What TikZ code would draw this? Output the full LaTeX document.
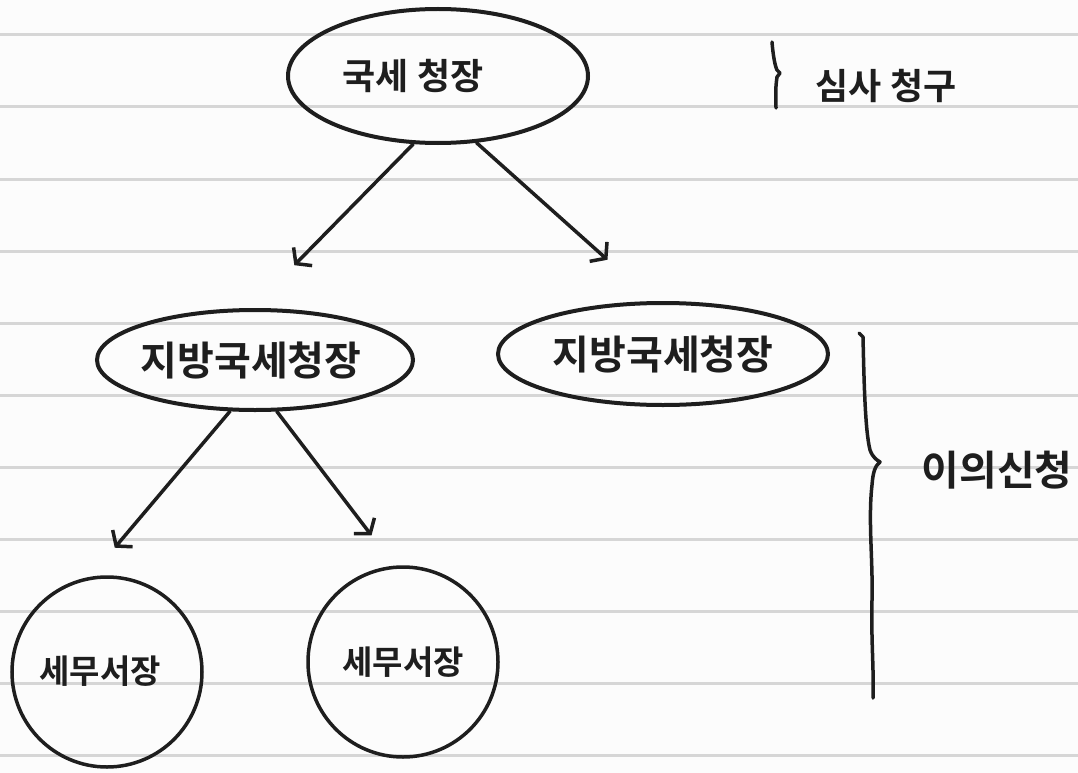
\documentclass[tikz,border=0pt]{standalone}
\usepackage{fontspec}
\newfontfamily\kr{Noto Sans CJK KR}[BoldFont={* Bold}]
\usetikzlibrary{shapes.geometric,arrows.meta}
\definecolor{ink}{HTML}{1E1E1E}
\definecolor{rule}{HTML}{D6D6D6}
\definecolor{paper}{HTML}{FCFCFC}
\tikzset{
  ink/.style={draw=ink, line width=4pt},
  oval/.style={ellipse, ink, inner sep=0pt, font=\kr\bfseries\fontsize{#1}{#1}\selectfont, text=ink},
  rnd/.style={circle, draw=ink, line width=3.5pt, inner sep=0pt, minimum size=190pt, font=\kr\bfseries\fontsize{33}{33}\selectfont, text=ink},
  arr/.style={draw=ink, line width=3.5pt, line cap=round, line join=round, -{Straight Barb[length=10pt,width=26pt,line width=3.5pt]}},
  brc/.style={draw=ink, line width=3.5pt, line cap=round, line join=round},
  lbl/.style={font=\kr\bfseries\fontsize{#1}{#1}\selectfont, text=ink, inner sep=0pt},
}
\begin{document}
\begin{tikzpicture}[x=1pt,y=-1pt]
\fill[paper] (0,0) rectangle (1078,773);
\useasboundingbox (0,0) rectangle (1078,773);
\foreach \yy in {35,107,179,251,323,395,467,539,611,683,755}
  \draw[rule, line width=3pt] (0,\yy) -- (1078,\yy);

\node[oval=36, minimum width=300pt, minimum height=134pt] (top) at (438,76) {\makebox[0pt]{\kern-50pt 국세 청장}};
\node[oval=40, minimum width=316pt, minimum height=100pt] (mid1) at (255,360) {\makebox[0pt]{\kern-8pt\raisebox{-5pt}{지방국세청장}}};
\node[oval=40, minimum width=330pt, minimum height=102pt] (mid2) at (663,354) {\makebox[0pt]{\raisebox{-5pt}{지방국세청장}}};
\node[rnd] (bot1) at (107,672) {\makebox[0pt]{\kern-14pt\raisebox{5pt}{세무서장}}};
\node[rnd] (bot2) at (403,662) {\makebox[0pt]{세무서장}};

\draw[arr, shorten >=60pt] (top.250) -- (mid1.93);
\draw[arr, shorten >=62pt] (top.300) -- (mid2.100);
\draw[arr, shorten >=38pt] (mid1.244) -- (bot1.100);
\draw[arr, shorten >=38pt] (mid1.293) -- (bot2.95);

\draw[brc] (772,42) .. controls (773,55) and (775,66) .. (777,70)
  -- (780,73) -- (777,77) .. controls (775,90) and (776,100) .. (776,108);
\node[lbl=36] (simsa) at (886,86) {심사 청구};

\draw[brc] (859,333) -- (863,337) .. controls (864,380) and (865,430) .. (870,450)
  .. controls (873,458) and (877,460) .. (880,462)
  .. controls (875,466) and (873,472) .. (872,485)
  .. controls (868,520) and (873,560) .. (872,600)
  .. controls (871,640) and (874,670) .. (873,698);
\node[lbl=41] (iui) at (997,470) {이의신청};
\end{tikzpicture}
\end{document}
